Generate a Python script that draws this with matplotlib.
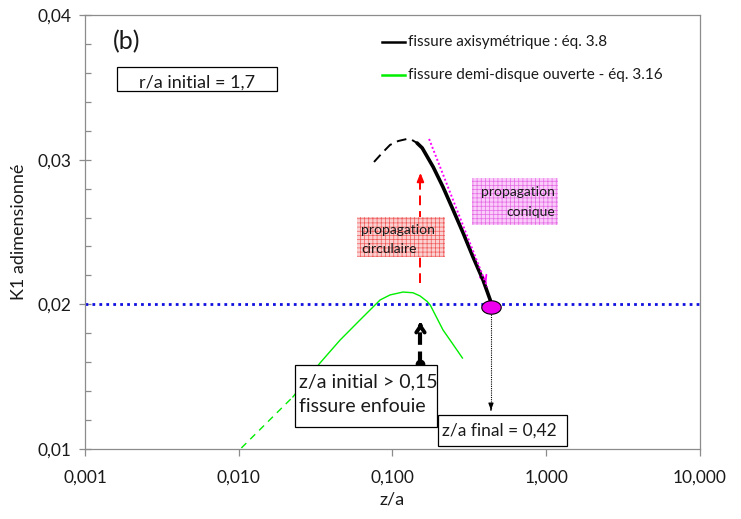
import numpy as np
import matplotlib
matplotlib.use("Agg")
import matplotlib.pyplot as plt
from matplotlib.patches import Rectangle

plt.rcParams['font.family'] = ['Lato', 'DejaVu Sans']
plt.rcParams['hatch.linewidth'] = 0.5

# --- data ---
# black curve (fissure axisymetrique): dashed part then solid part
axi_dash_z = [0.0758, 0.0856, 0.0964, 0.109, 0.124, 0.134, 0.1445]
axi_dash_k = [0.02984, 0.03046, 0.03102, 0.03129, 0.03143, 0.03136, 0.03115]
axi_solid_z = [0.1445, 0.156, 0.163, 0.184, 0.213, 0.248, 0.288, 0.334, 0.388, 0.432, 0.437]
axi_solid_k = [0.03115, 0.03081, 0.03046, 0.02949, 0.02811, 0.02652, 0.02493, 0.02327, 0.02168,
               0.0203, 0.0198]

# green curve (fissure demi-disque ouverte)
disk_dash_z = [0.0104, 0.0225]
disk_dash_k = [0.01007, 0.01360]
disk_solid_z = [0.0225, 0.0338, 0.0456, 0.0615, 0.083, 0.0964, 0.117, 0.136, 0.151, 0.168,
                0.176, 0.213, 0.244, 0.285]
disk_solid_k = [0.01360, 0.01595, 0.01753, 0.01892, 0.0203, 0.02065, 0.02085, 0.02080, 0.02058,
                0.02020, 0.01995, 0.01823, 0.01733, 0.01629]

k_threshold = 0.02
z_initial = 0.152
z_final = 0.437
k_final = 0.0198

red_arrow_k = [0.02148, 0.02929]
black_arrow_k = [0.01588, 0.01892]
magenta_arrow_z = [0.173, 0.413]
magenta_arrow_k = [0.03143, 0.0212]
drop_arrow_k = [0.0195, 0.01249]

x_ticks = [0.001, 0.01, 0.1, 1, 10]
x_labels = ['0,001', '0,010', '0,100', '1,000', '10,000']
y_ticks = [0.01, 0.02, 0.03, 0.04]
y_labels = ['0,01', '0,02', '0,03', '0,04']

W, H = 741, 519
fig = plt.figure(figsize=(W / 100, H / 100), dpi=100)
ax = fig.add_axes([85 / W, 1 - 449 / H, 615 / W, 434 / H])


def fx(x):
    return x / W


def fy(y):
    return 1 - y / H


grey = '#8c8c8c'
txt = '#1a1a1a'
ax.set_xscale('log')
ax.set_xlim(0.001, 10)
ax.set_ylim(0.01, 0.04)
for s in ax.spines.values():
    s.set_color(grey)
    s.set_linewidth(0.9)

ax.set_xticks(x_ticks)
ax.set_xticklabels(x_labels)
ax.xaxis.set_minor_locator(matplotlib.ticker.NullLocator())
ax.set_yticks(y_ticks)
ax.set_yticklabels(y_labels)
ax.set_yticks(np.arange(0.012, 0.04, 0.002), minor=True)
ax.tick_params(axis='x', which='major', direction='out', length=5, width=0.9,
               color=grey, pad=10, labelsize=12.5, labelcolor=txt)
ax.tick_params(axis='y', which='major', direction='inout', length=9, width=0.9,
               color=grey, pad=5, labelsize=12.5, labelcolor=txt)
ax.tick_params(axis='y', which='minor', direction='in', length=4, width=0.9, color=grey)
ax.set_xlabel('z/a', fontsize=13, color=txt, labelpad=4)
ax.set_ylabel('K1 adimensionné', fontsize=13, color=txt, labelpad=8)

# threshold line
ax.axhline(k_threshold, color='#1010e0', linestyle=(0, (1, 1.5)), linewidth=2, zorder=2)

# curves
ax.plot(disk_dash_z, disk_dash_k, color='#00ee00', linewidth=1, linestyle=(0, (5, 4)), zorder=3)
ax.plot(disk_solid_z, disk_solid_k, color='#00ee00', linewidth=1, zorder=3,
        solid_joinstyle='round')
ax.plot(axi_dash_z, axi_dash_k, color='black', linewidth=1.4, linestyle=(0, (5, 3)), zorder=4)
ax.plot(axi_solid_z, axi_solid_k, color='black', linewidth=2.6, zorder=4,
        solid_capstyle='round', solid_joinstyle='round')

# red dashed arrow (circular propagation)
ax.plot([z_initial, z_initial], [red_arrow_k[0], red_arrow_k[1] - 0.0006], color='red',
        linestyle=(0, (5, 3)), linewidth=1.4, zorder=5)
ax.annotate('', xy=(z_initial, red_arrow_k[1]), xytext=(z_initial, red_arrow_k[1] - 0.0008),
            arrowprops=dict(arrowstyle='-|>,head_length=0.5,head_width=0.2', color='red', lw=1.4))

# magenta dotted arrow (conical propagation)
ax.plot(magenta_arrow_z, magenta_arrow_k, color='#ff00ff', linestyle=(0, (1, 1.2)),
        linewidth=1.4, zorder=5)
ax.annotate('', xy=(magenta_arrow_z[1], magenta_arrow_k[1]),
            xytext=(magenta_arrow_z[1] * 0.93, magenta_arrow_k[1] + 0.0009),
            arrowprops=dict(arrowstyle='->,head_length=0.5,head_width=0.25', color='#ff00ff', lw=1.3))

# black thick dashed arrow from the initial point
ax.plot([z_initial, z_initial], [black_arrow_k[0], black_arrow_k[1] - 0.0004], color='black',
        linestyle=(0, (3, 1.6)), linewidth=3, zorder=5)
ax.annotate('', xy=(z_initial, black_arrow_k[1]), xytext=(z_initial, black_arrow_k[1] - 0.0006),
            arrowprops=dict(arrowstyle='->,head_length=0.45,head_width=0.3', color='black', lw=2.8))
ax.plot([z_initial], [black_arrow_k[0]], 'o', color='black', markersize=6, zorder=9, clip_on=False)

# thin dotted arrow from final point
ax.plot([z_final, z_final], [drop_arrow_k[0], drop_arrow_k[1] + 0.0003], color='black',
        linestyle=(0, (1, 1)), linewidth=0.8, zorder=5)
ax.annotate('', xy=(z_final, drop_arrow_k[1]), xytext=(z_final, drop_arrow_k[1] + 0.0004),
            arrowprops=dict(arrowstyle='-|>,head_length=0.4,head_width=0.15', color='black', lw=0.8))

# final point marker (flattened ellipse)
t = np.linspace(0, 2 * np.pi, 60)
ellipse_marker = np.column_stack([1.45 * np.cos(t), np.sin(t)])
ax.plot([z_final], [k_final], marker=ellipse_marker, markersize=14, markerfacecolor='#ee00ee',
        markeredgecolor='black', markeredgewidth=0.8, zorder=7, linestyle='none')

# hatched label boxes
red_box = Rectangle((fx(357), fy(257)), fx(88), 40 / H, transform=fig.transFigure,
                    facecolor='#fbd0d0', edgecolor='#f05a5a', hatch='++++', linewidth=0, zorder=1)
mag_box = Rectangle((fx(472), fy(225)), fx(86), 47 / H, transform=fig.transFigure,
                    facecolor='#f9ccf9', edgecolor='#e66ae6', hatch='++++', linewidth=0, zorder=1)
fig.add_artist(red_box)
fig.add_artist(mag_box)
fig.text(fx(361), fy(230), 'propagation', fontsize=10, color=txt, va='center', ha='left')
fig.text(fx(361), fy(249), 'circulaire', fontsize=10, color=txt, va='center', ha='left')
fig.text(fx(555), fy(192), 'propagation', fontsize=10, color=txt, va='center', ha='right')
fig.text(fx(555), fy(212), 'conique', fontsize=10, color=txt, va='center', ha='right')

# framed text boxes
for (x0, y0, x1, y1) in [(117, 67, 277, 91), (295, 365, 437, 427), (438, 415, 567, 446)]:
    fig.add_artist(Rectangle((fx(x0), fy(y1)), (x1 - x0) / W, (y1 - y0) / H,
                             transform=fig.transFigure, facecolor='white',
                             edgecolor='black', linewidth=0.9, zorder=8))
fig.text(fx(197), fy(83), 'r/a initial = 1,7', fontsize=13, ha='center', va='center', color=txt, zorder=9)
fig.text(fx(299), fy(382), 'z/a initial > 0,15', fontsize=14, ha='left', va='center', color=txt, zorder=9)
fig.text(fx(299), fy(407), 'fissure enfouie', fontsize=14, ha='left', va='center', color=txt, zorder=9)
fig.text(fx(442), fy(431), 'z/a final = 0,42', fontsize=12.5, ha='left', va='center', color=txt, zorder=9)

fig.text(fx(113), fy(42), '(b)', fontsize=18, ha='left', va='center', color=txt)

# legend drawn by hand
fig.add_artist(plt.Line2D([fx(382), fx(405)], [fy(42), fy(42)], color='black', linewidth=1.8))
fig.add_artist(plt.Line2D([fx(382), fx(405)], [fy(75), fy(75)], color='#00ee00', linewidth=1.8))
fig.text(fx(408), fy(42), 'fissure axisymétrique : éq. 3.8', fontsize=11, va='center', color=txt)
fig.text(fx(408), fy(75), 'fissure demi-disque ouverte - éq. 3.16', fontsize=11, va='center', color=txt)

fig.savefig('out.png', dpi=100)
